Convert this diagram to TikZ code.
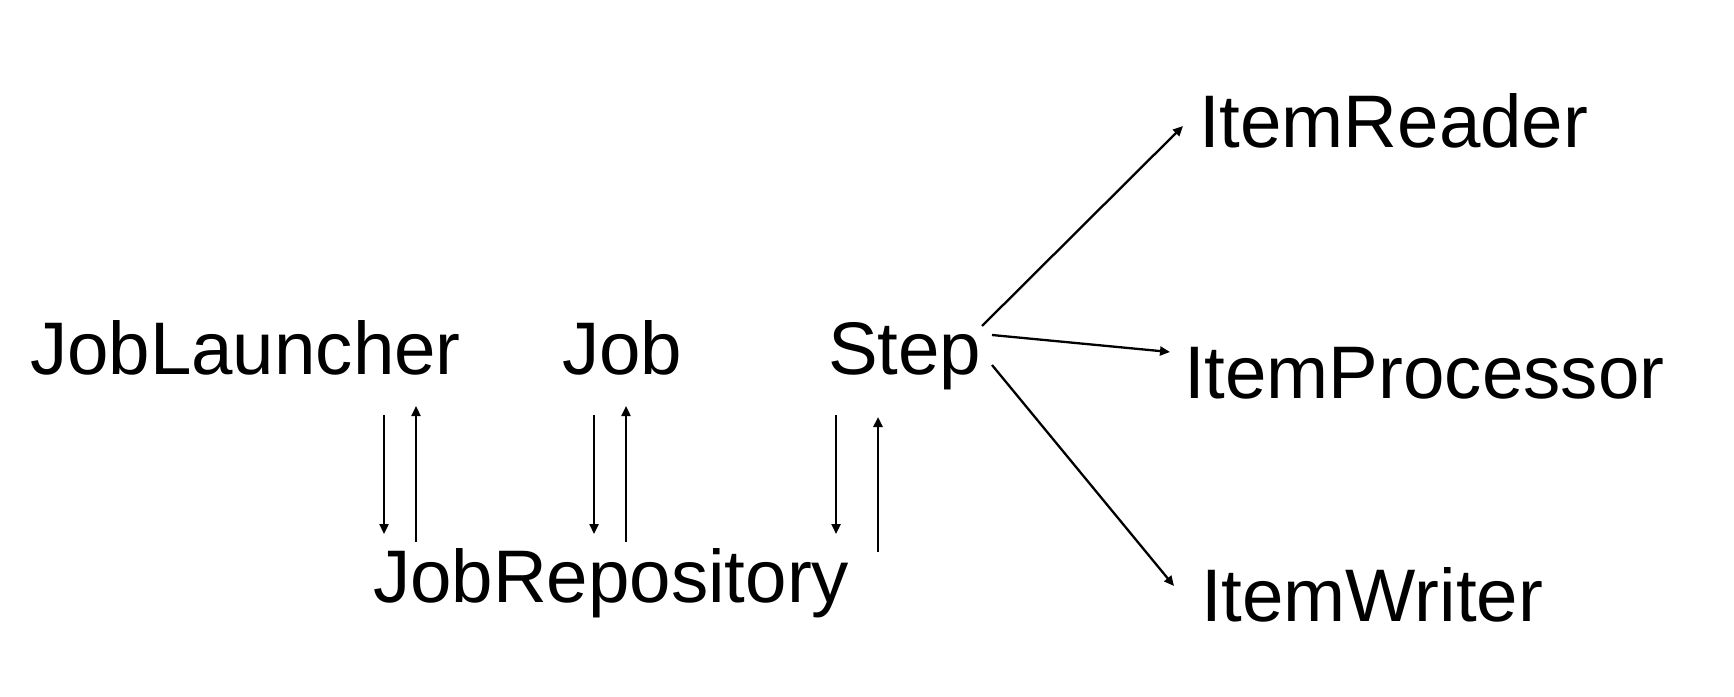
\documentclass[tikz,border=0pt]{standalone}
\usepackage{fontspec}
\setmainfont{Liberation Sans}
\usetikzlibrary{arrows.meta}
\begin{document}
\begin{tikzpicture}[x=1pt,y=-1pt,
  lbl/.style={inner sep=0pt,outer sep=0pt,anchor=base west,font=\fontsize{74.5}{80}\selectfont},
  arr/.style={line width=2.3pt,-{Triangle[length=10pt,width=9pt]}}]
\fill[white] (0,0) rectangle (1734,696);
\useasboundingbox (0,0) rectangle (1734,696);
\node[lbl] (jl) at (30,374) {JobLauncher};
\node[lbl] (job) at (562,374) {Job};
\node[lbl] (step) at (828,374) {Step};
\node[lbl] (repo) at (373,602) {JobRepository};
\node[lbl] (ir) at (1199,147) {ItemReader};
\node[lbl] (ip) at (1184,398) {ItemProcessor};
\node[lbl] (iw) at (1201,621) {ItemWriter};
% JobLauncher <-> JobRepository
\draw[arr] ([xshift=354pt,yshift=-41pt]jl.base west) -- ([xshift=11pt,yshift=68pt]repo.base west);
\draw[arr] ([xshift=43pt,yshift=60pt]repo.base west) -- ([xshift=386pt,yshift=-32pt]jl.base west);
% Job <-> JobRepository
\draw[arr] ([xshift=32pt,yshift=-41pt]job.base west) -- ([xshift=221pt,yshift=68pt]repo.base west);
\draw[arr] ([xshift=253pt,yshift=60pt]repo.base west) -- ([xshift=64pt,yshift=-32pt]job.base west);
% Step <-> JobRepository
\draw[arr] ([xshift=8pt,yshift=-41pt]step.base west) -- ([xshift=463pt,yshift=68pt]repo.base west);
\draw[arr,line width=2.7pt] ([xshift=505pt,yshift=50pt]repo.base west) -- ([xshift=50pt,yshift=-43pt]step.base west);
% Step -> items
\draw[arr] ([xshift=154pt,yshift=48pt]step.base west) -- ([xshift=-16pt,yshift=21pt]ir.base west);
\draw[arr] ([xshift=164pt,yshift=39pt]step.base west) -- ([xshift=-14pt,yshift=46pt]ip.base west);
\draw[arr] ([xshift=164pt,yshift=9pt]step.base west) -- ([xshift=-27pt,yshift=35pt]iw.base west);
\end{tikzpicture}
\end{document}
